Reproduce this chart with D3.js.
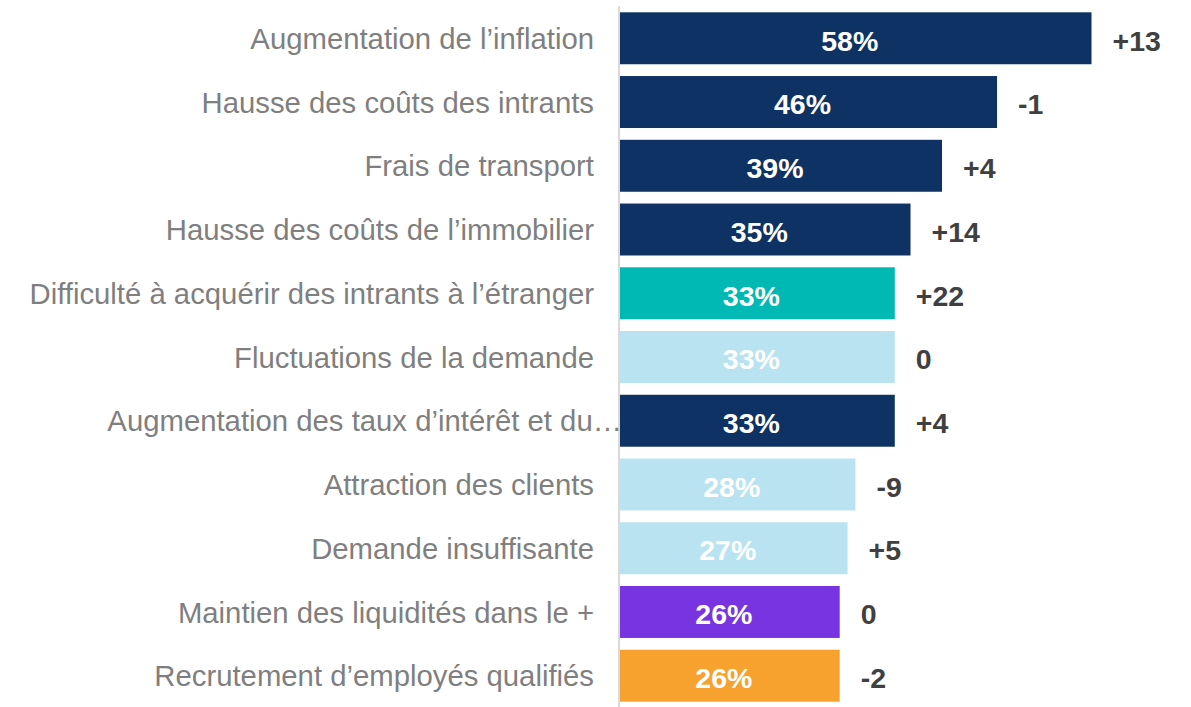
<!DOCTYPE html>
<html lang="fr">
<head>
  <meta charset="UTF-8">
  <title>Obstacles</title>
  <script src="https://d3js.org/d3.v7.min.js"></script>
  <style>
    body { margin: 0; background: #fff; }
    text { font-family: "Liberation Sans", Arial, sans-serif; }
  </style>
</head>
<body>
<svg id="graphique"></svg>
<script>
  // Données
  const categories = [
    "Augmentation de l\u2019inflation",
    "Hausse des co\u00fbts des intrants",
    "Frais de transport",
    "Hausse des co\u00fbts de l\u2019immobilier",
    "Difficult\u00e9 \u00e0 acqu\u00e9rir des intrants \u00e0 l\u2019\u00e9tranger",
    "Fluctuations de la demande",
    "Augmentation des taux d\u2019int\u00e9r\u00eat et du\u2026",
    "Attraction des clients",
    "Demande insuffisante",
    "Maintien des liquidit\u00e9s dans le +",
    "Recrutement d\u2019employ\u00e9s qualifi\u00e9s"
  ];
  const valeurs = [58, 46, 39, 35, 33, 33, 33, 28, 27, 26, 26];
  const variations = [13, -1, 4, 14, 22, 0, 4, -9, 5, 0, -2];
  const groupes = ["cout", "cout", "cout", "cout", "etranger", "demande", "cout", "demande", "demande", "liquidite", "emploi"];

  const largura = 1191, altura = 707;

  const svg = d3.select("#graphique")
      .attr("width", largura)
      .attr("height", altura);

  const data = categories.map((c, i) => ({
    cat: c, val: valeurs[i], delta: variations[i], grp: groupes[i]
  }));

  const couleur = d3.scaleOrdinal()
      .domain(["cout", "etranger", "demande", "liquidite", "emploi"])
      .range(["#0e3263", "#00b9b4", "#b9e3f0", "#7834e1", "#f7a22f"]);

  const x = d3.scaleLinear()
      .domain([-1.92, 58])
      .range([620, 1091.5]);

  const y = d3.scaleBand()
      .domain(categories)
      .range([12.3, 701.7])
      .paddingInner(0.185)
      .paddingOuter(0);

  // ligne de l'axe
  svg.append("line")
      .attr("x1", 619).attr("x2", 619)
      .attr("y1", 6).attr("y2", altura)
      .attr("stroke", "#d9d9d9")
      .attr("stroke-width", 2);

  // barres
  svg.selectAll(".barre")
      .data(data)
      .enter().append("rect")
      .attr("class", "barre")
      .attr("x", x.range()[0])
      .attr("y", d => y(d.cat))
      .attr("width", d => x(d.val) - x.range()[0])
      .attr("height", y.bandwidth())
      .attr("fill", d => couleur(d.grp));

  // étiquettes des catégories
  svg.selectAll(".cat")
      .data(data)
      .enter().append("text")
      .attr("class", "cat")
      .attr("x", d => d.cat.endsWith("\u2026") ? 622 : 594)
      .attr("y", d => y(d.cat) + y.bandwidth() / 2)
      .attr("dy", "0.36em")
      .attr("text-anchor", "end")
      .attr("font-size", 29.3)
      .attr("fill", "#7f7f7f")
      .text(d => d.cat);

  // valeurs dans les barres
  svg.selectAll(".val")
      .data(data)
      .enter().append("text")
      .attr("class", "val")
      .attr("x", d => (x.range()[0] + x(d.val)) / 2 - 6)
      .attr("y", d => y(d.cat) + y.bandwidth() / 2 + 2)
      .attr("dy", "0.36em")
      .attr("text-anchor", "middle")
      .attr("font-size", 28.5)
      .attr("font-weight", "bold")
      .attr("fill", "#ffffff")
      .text(d => d.val + "%");

  // variations
  svg.selectAll(".delta")
      .data(data)
      .enter().append("text")
      .attr("class", "delta")
      .attr("x", d => x(d.val) + 21)
      .attr("y", d => y(d.cat) + y.bandwidth() / 2 + 2)
      .attr("dy", "0.36em")
      .attr("font-size", 28.5)
      .attr("font-weight", "bold")
      .attr("fill", "#404040")
      .text(d => d.delta > 0 ? "+" + d.delta : String(d.delta));
</script>
</body>
</html>
